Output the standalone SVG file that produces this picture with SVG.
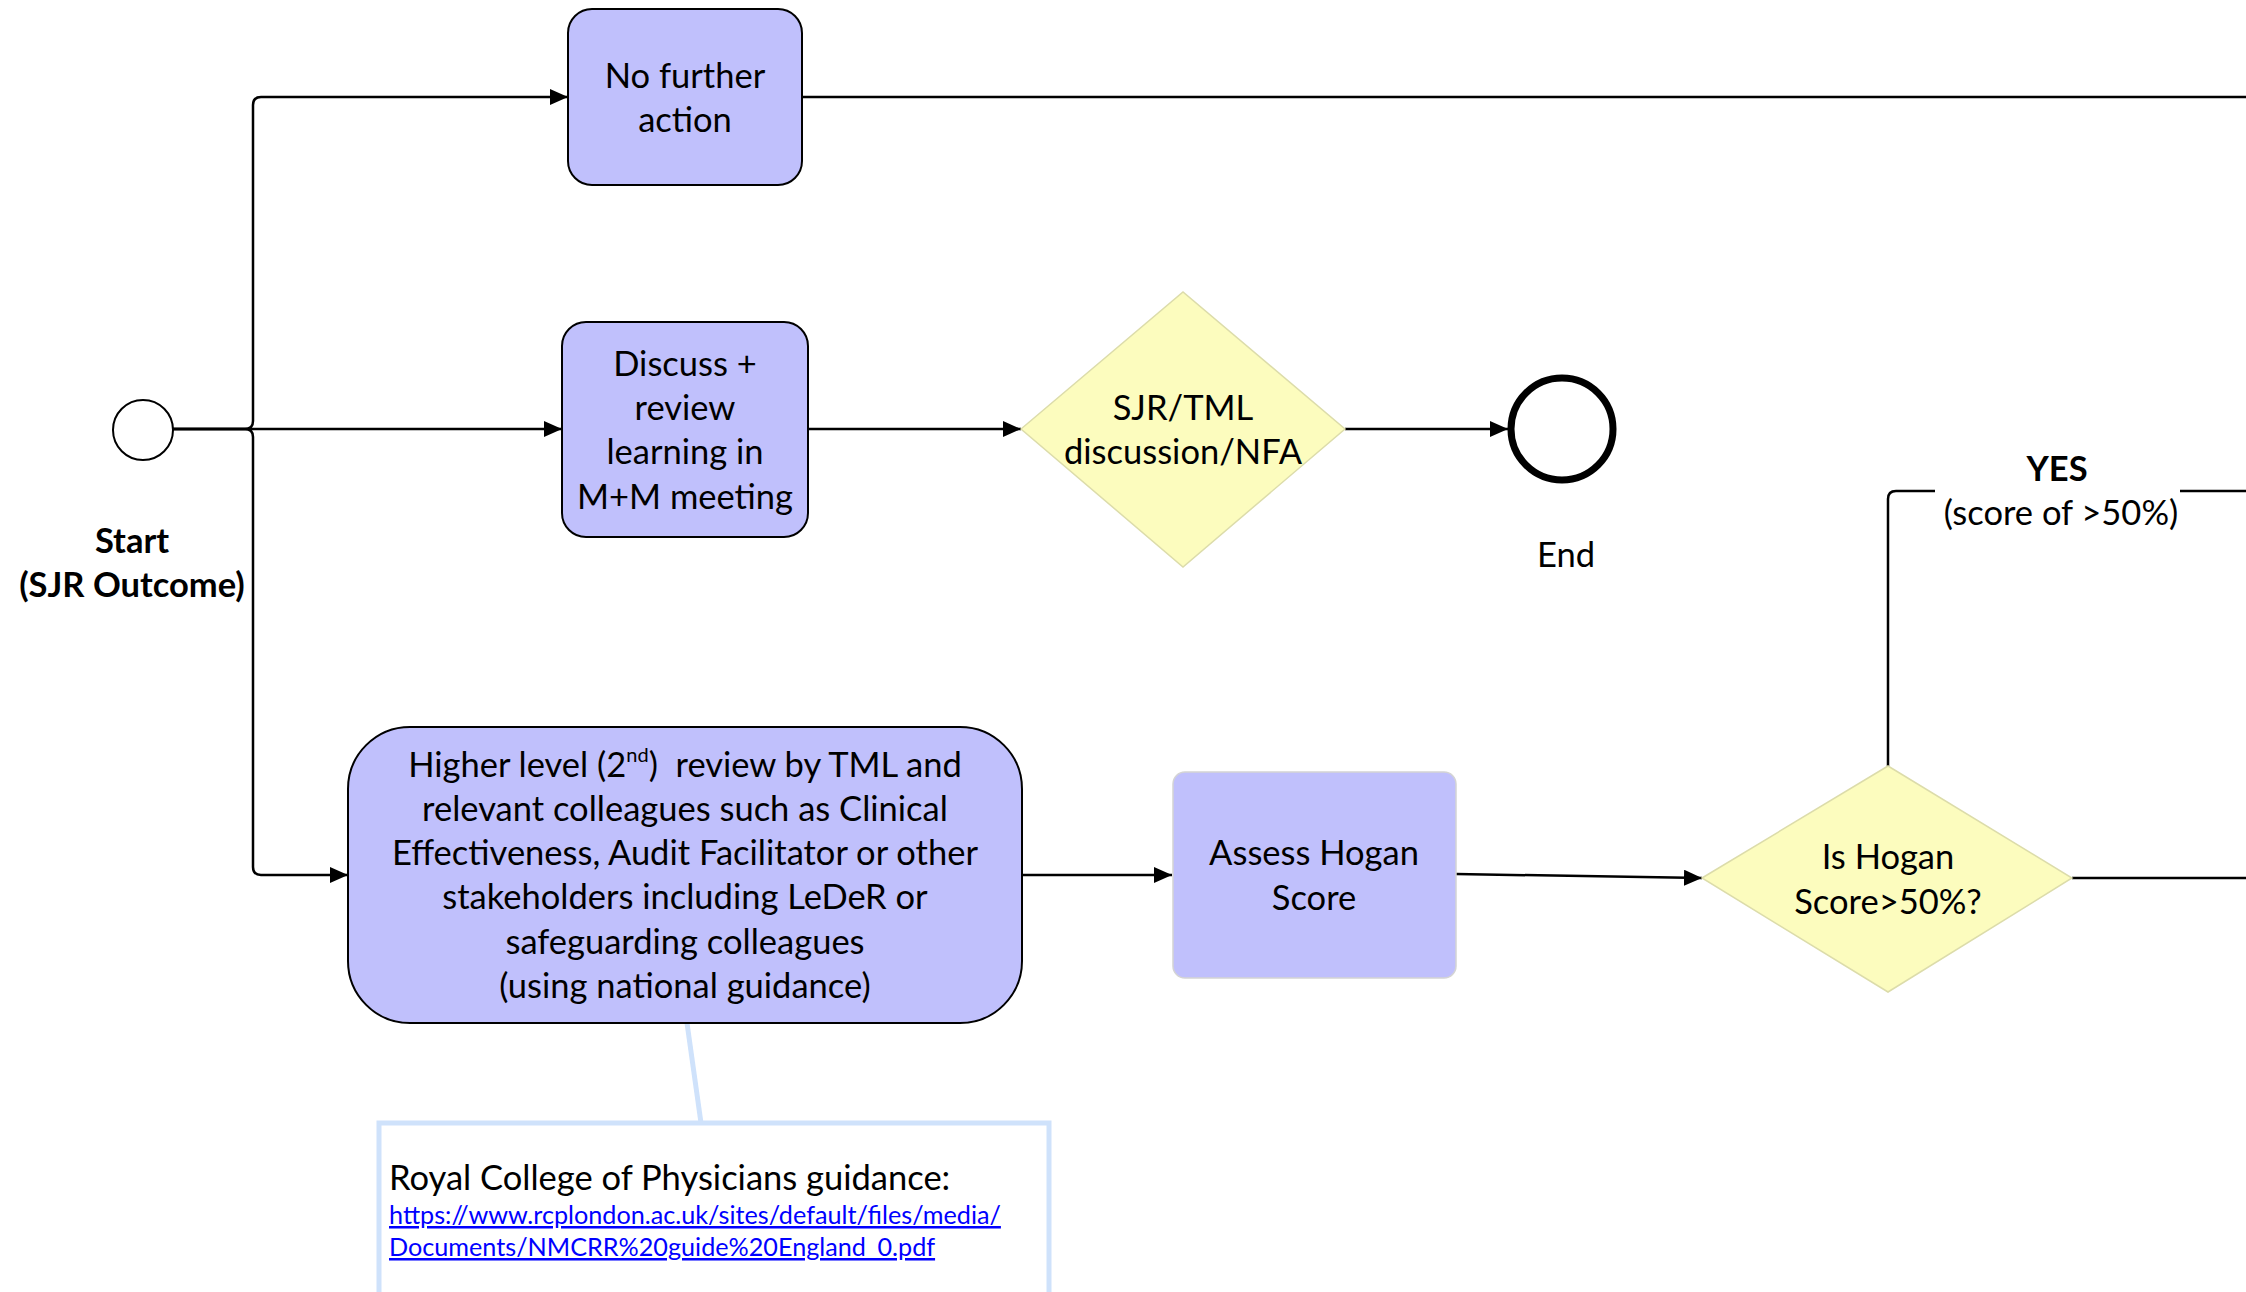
<svg xmlns="http://www.w3.org/2000/svg" width="2246" height="1292" viewBox="0 0 2246 1292">
<defs>
<marker id="arr" markerWidth="18" markerHeight="16" refX="18" refY="8" orient="auto" markerUnits="userSpaceOnUse"><path d="M0,0 L18,8 L0,16 Z" fill="#000"/></marker>
<style>
.t{font-family:Lato,"Liberation Sans",sans-serif;font-size:34.5px;fill:#000;text-anchor:middle}
.b{font-weight:bold}
.proc{fill:#c0c0fc;stroke:#000;stroke-width:2}
.dec{fill:#fcfcbe;stroke:#dcdcaa;stroke-width:1.5}
.c{fill:none;stroke:#000;stroke-width:2.5}
.ann{fill:none;stroke:#cfe2fb;stroke-width:5}
.lnk{font-family:Lato,"Liberation Sans",sans-serif;font-size:25.2px;fill:#0000ff;text-decoration:underline}
</style>
</defs>
<rect width="2246" height="1292" fill="#fff"/>
<g id="connectors">
<path class="c" d="M173,429 H245 Q253,429 253,421 V105 Q253,97 261,97 H568" marker-end="url(#arr)"/>
<path class="c" d="M173,429 H562" marker-end="url(#arr)"/>
<path class="c" d="M173,429 H245 Q253,429 253,437 V867 Q253,875 261,875 H348" marker-end="url(#arr)"/>
<path class="c" d="M808,429 H1021" marker-end="url(#arr)"/>
<path class="c" d="M1345,429 H1508" marker-end="url(#arr)"/>
<path class="c" d="M1022,875 H1172" marker-end="url(#arr)"/>
<path class="c" d="M1456,874 L1702,878" marker-end="url(#arr)"/>
<path class="c" d="M802,97 H2246"/>
<path class="c" d="M2072,878 H2246"/>
<path class="c" d="M1888,766 V499 Q1888,491 1896,491 H1935"/>
<path class="c" d="M2180,491 H2246"/>
<path class="ann" d="M687,1023 L701,1123" stroke-width="4"/>
</g>
<g id="start">
<circle cx="143" cy="430" r="30" fill="#fff" stroke="#000" stroke-width="2"/>
<text class="t b" x="132" y="553">Start</text>
<text class="t b" x="132" y="597">(SJR Outcome)</text>
</g>
<g id="no-further-action">
<rect class="proc" x="568" y="9" width="234" height="176" rx="24"/>
<text class="t" x="685" y="88">No further</text>
<text class="t" x="685" y="132">action</text>
</g>
<g id="discuss">
<rect class="proc" x="562" y="322" width="246" height="215" rx="24"/>
<text class="t" x="685" y="376">Discuss +</text>
<text class="t" x="685" y="420">review</text>
<text class="t" x="685" y="464">learning in</text>
<text class="t" x="685" y="509">M+M meeting</text>
</g>
<g id="sjr-tml">
<polygon class="dec" points="1021,429 1183,292 1345,429 1183,567"/>
<text class="t" x="1183" y="420">SJR/TML</text>
<text class="t" x="1183" y="464">discussion/NFA</text>
</g>
<g id="end">
<circle cx="1562" cy="429" r="51" fill="#fff" stroke="#000" stroke-width="7"/>
<text class="t" x="1566" y="567">End</text>
</g>
<g id="higher-level">
<rect class="proc" x="348" y="727" width="674" height="296" rx="62"/>
<text class="t" x="685" y="777">Higher level (2<tspan font-size="20" dy="-15">nd</tspan><tspan dy="15">)&#160; review by TML and</tspan></text>
<text class="t" x="685" y="821">relevant colleagues such as Clinical</text>
<text class="t" x="685" y="865">Effectiveness, Audit Facilitator or other</text>
<text class="t" x="685" y="909">stakeholders including LeDeR or</text>
<text class="t" x="685" y="954">safeguarding colleagues</text>
<text class="t" x="685" y="998">(using national guidance)</text>
</g>
<g id="assess-hogan">
<rect x="1173" y="772" width="283" height="206" rx="12" fill="#c0c0fc" stroke="#d4d4d4" stroke-width="1.5"/>
<text class="t" x="1314" y="865">Assess Hogan</text>
<text class="t" x="1314" y="910">Score</text>
</g>
<g id="is-hogan">
<polygon class="dec" points="1702,878 1888,766 2072,878 1888,992"/>
<text class="t" x="1888" y="869">Is Hogan</text>
<text class="t" x="1888" y="914">Score&gt;50%?</text>
</g>
<g id="yes-label">
<text class="t b" x="2057" y="481">YES</text>
<text class="t" x="2061" y="525">(score of &gt;50%)</text>
</g>
<g id="annotation">
<rect class="ann" x="379" y="1123" width="670" height="200" fill="#fff"/>
<text x="389" y="1190" font-family="Lato, 'Liberation Sans', sans-serif" font-size="34.5" fill="#000">Royal College of Physicians guidance:</text>
<text class="lnk" x="389" y="1224">https://www.rcplondon.ac.uk/sites/default/files/media/</text>
<text class="lnk" x="389" y="1256">Documents/NMCRR%20guide%20England_0.pdf</text>
</g>
</svg>
